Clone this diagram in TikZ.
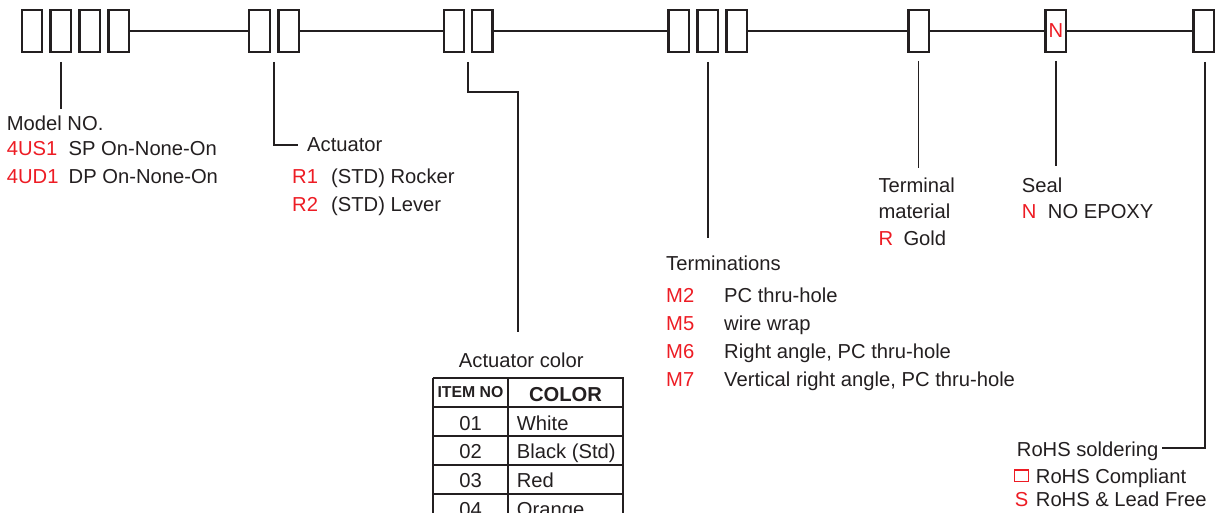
\documentclass[tikz,border=0pt]{standalone}
\usepackage{fontspec}
\setmainfont{Liberation Sans}
\definecolor{ink}{HTML}{231F20}
\definecolor{rd}{HTML}{ED1C24}
\tikzset{
  bx/.style={draw=ink, line width=2.3pt, minimum width=20.5pt, minimum height=41.8pt, inner sep=0pt},
  ln/.style={draw=ink, line width=2pt},
  ld/.style={draw=ink, line width=1.9pt},
  tl/.style={anchor=base west, inner sep=0pt, text=ink, font=\fontsize{20.2}{23}\selectfont},
  rt/.style={tl, text=rd},
  tc/.style={tl, anchor=base},
}
\begin{document}
\begin{tikzpicture}[x=1pt,y=-1pt]
\useasboundingbox (0,0) rectangle (1217,513);
\clip (0,0) rectangle (1217,513);
% boxes
\node[bx] (b1) at (32,31) {};
\node[bx] (b2) at (60.7,31) {};
\node[bx] (b3) at (89.7,31) {};
\node[bx] (b4) at (118.7,31) {};
\node[bx] (c1) at (259.5,31) {};
\node[bx] (c2) at (288.7,31) {};
\node[bx] (d1) at (454,31) {};
\node[bx] (d2) at (482.3,31) {};
\node[bx] (e1) at (678.8,31) {};
\node[bx] (e2) at (707.7,31) {};
\node[bx] (e3) at (736.7,31) {};
\node[bx] (f) at (918.8,31) {};
\node[bx, text=rd, font=\fontsize{20.2}{23}\selectfont] (g) at (1055.8,31) {N};
\node[bx] (h) at (1203.7,31) {};
\draw[ln] (b4.east) -- (c1.west);
\draw[ln] (c2.east) -- (d1.west);
\draw[ln] (d2.east) -- (e1.west);
\draw[ln] (e3.east) -- (f.west);
\draw[ln] (f.east) -- (g.west);
\draw[ln] (g.east) -- (h.west);
% coordinates for leader ends
\coordinate (m0) at (60.7,62);
\coordinate (m1) at (60.7,109);
\coordinate (a0) at (274,62);
\coordinate (a1) at (298.3,145);
\coordinate (ac0) at (468.3,62);
\coordinate (ac1) at (517.6,92);
\coordinate (ac2) at (517.6,331.7);
\coordinate (t0) at (707.6,62);
\coordinate (t1) at (707.6,237.5);
\coordinate (tm0) at (918.5,61);
\coordinate (tm1) at (918.5,168);
\coordinate (s0) at (1055.7,61);
\coordinate (s1) at (1055.7,166);
\coordinate (r0) at (1205.3,62);
\coordinate (r1) at (1161.7,448.3);
\draw[ld] (m0) -- (m1);
\draw[ld] (a0) |- (a1);
\draw[ld] (ac0) |- (ac1) -- (ac2);
\draw[ld] (t0) -- (t1);
\draw[ld] (tm0) -- (tm1);
\draw[ld] (s0) -- (s1);
\draw[ld] (r0) |- (r1);
% model
\node[tl] (modt) at (6.7,131) {Model NO.};
\node[rt] (m1a) at (6.7,156) {4US1};
\node[tl] (m1b) at (68.5,156) {SP On-None-On};
\node[rt] (m2a) at (6.7,184) {4UD1};
\node[tl] (m2b) at (68.5,184) {DP On-None-On};
% actuator
\node[tl] (actt) at (307,152) {Actuator};
\node[rt] (r1a) at (292,183.5) {R1};
\node[tl] (r1b) at (331,183.5) {(STD) Rocker};
\node[rt] (r2a) at (292,211.5) {R2};
\node[tl] (r2b) at (331,211.5) {(STD) Lever};
% actuator color table
\node[tc] (colt) at (521.3,367) {Actuator color};
\draw[ld] (432.7,378.3) -- (622.7,378.3) -- (622.7,520) (432.7,378.3) -- (432.7,520)
  (508.3,378.3) -- (508.3,520)
  (432.7,407.3) -- (622.7,407.3) (432.7,436) -- (622.7,436)
  (432.7,465) -- (622.7,465) (432.7,494) -- (622.7,494);
\node[tc, font=\fontsize{15.8}{18}\bfseries] (hi) at (470.5,397.7) {ITEM NO};
\node[tc, font=\fontsize{20.2}{23}\bfseries] (hc) at (565.5,401.7) {COLOR};
\node[tc] (i1) at (470.5,430) {01};
\node[tl] (c1t) at (516.7,430) {White};
\node[tc] (i2) at (470.5,458.5) {02};
\node[tl] (c2t) at (516.7,458.5) {Black (Std)};
\node[tc] (i3) at (470.5,487.3) {03};
\node[tl] (c3t) at (516.7,487.3) {Red};
\node[tc] (i4) at (470.5,516.5) {04};
\node[tl] (c4t) at (516.7,516.5) {Orange};
% terminations
\node[tl] (term) at (666,270) {Terminations};
\node[rt] (tm2) at (666,302.8) {M2};
\node[tl] (tm2b) at (724,302.8) {PC thru-hole};
\node[rt] (tm5) at (666,330.5) {M5};
\node[tl] (tm5b) at (724,330.5) {wire wrap};
\node[rt] (tm6) at (666,358.5) {M6};
\node[tl] (tm6b) at (724,358.5) {Right angle, PC thru-hole};
\node[rt] (tm7) at (666,386.6) {M7};
\node[tl] (tm7b) at (724,386.6) {Vertical right angle, PC thru-hole};
% terminal material
\node[tl] (tmat1) at (878.3,192.7) {Terminal};
\node[tl] (tmat2) at (878.3,218.5) {material};
\node[rt] (tmr) at (878.3,245) {R};
\node[tl] (tmg) at (903.3,245) {Gold};
% seal
\node[tl] (seal) at (1021.7,192.7) {Seal};
\node[rt] (sn) at (1021.7,218.5) {N};
\node[tl] (sne) at (1047.7,218.5) {NO EPOXY};
% rohs
\node[tl] (rohs) at (1016.7,456.7) {RoHS soldering};
\node[draw=rd, line width=1.2pt, minimum width=13.5pt, minimum height=11.5pt, inner sep=0pt] (sq) at (1021.6,475.8) {};
\node[tl] (rc) at (1035.7,483.3) {RoHS Compliant};
\node[rt] (rs) at (1014.7,506.7) {S};
\node[tl] (rl) at (1035.7,506.7) {RoHS \& Lead Free};
\end{tikzpicture}
\end{document}
